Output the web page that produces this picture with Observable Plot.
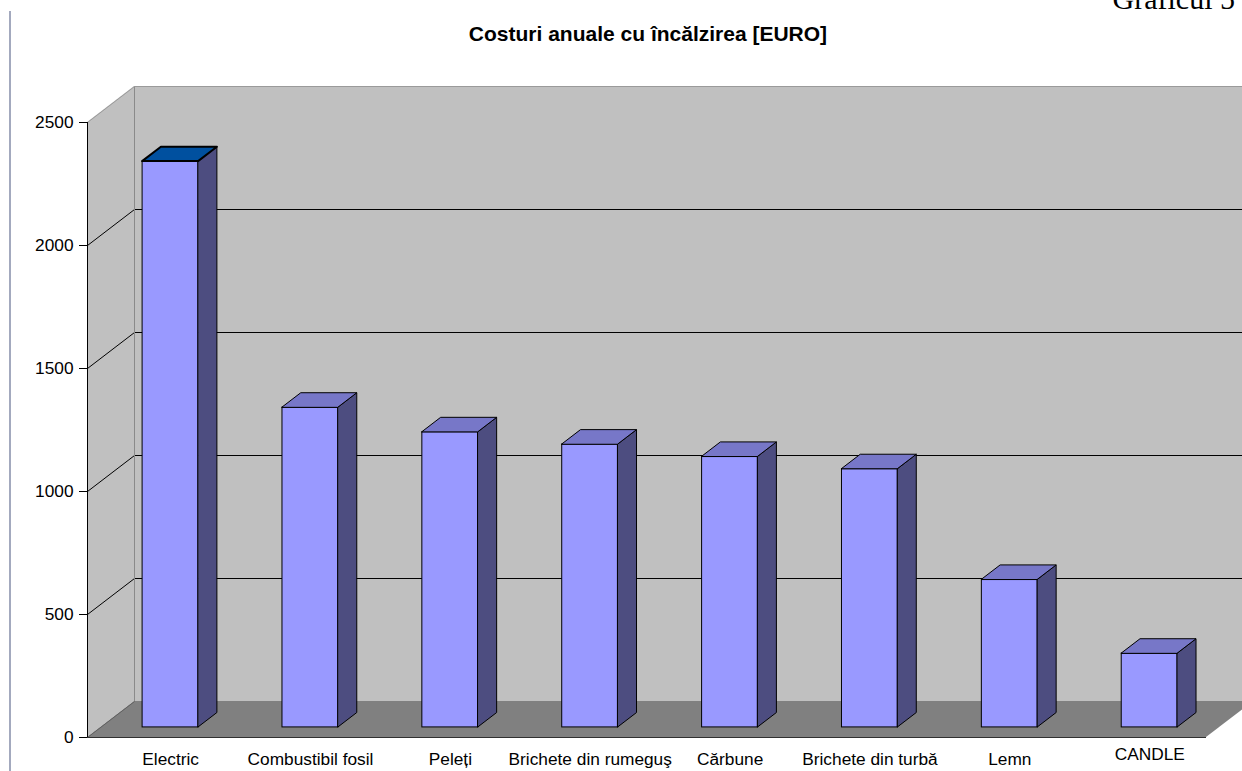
<!DOCTYPE html>
<html><head><meta charset="utf-8">
<script src="https://cdn.jsdelivr.net/npm/d3@7"></script>
<script src="https://cdn.jsdelivr.net/npm/@observablehq/plot@0.6"></script>
<style>
body{margin:0;background:#fff;}
#wrap{position:relative;width:1242px;height:771px;overflow:hidden;background:#fff;}
#vline{position:absolute;left:9px;top:11px;width:2px;height:770px;background:#A3A9BE;}
#fig{position:absolute;left:0;top:0;}
#title{position:absolute;left:448px;width:400px;top:22px;line-height:21px;text-align:center;font:bold 21px "Liberation Sans",Arial,sans-serif;color:#000;white-space:nowrap;}
#gref{position:absolute;right:7px;top:-18px;line-height:30px;font:30px "Liberation Serif","Times New Roman",serif;color:#000;white-space:nowrap;}
</style></head><body>
<div id="wrap">
<div id="vline"></div>
<div id="fig"></div>
<div id="title">Costuri anuale cu încălzirea [EURO]</div>
<div id="gref">Graficul 5</div>
</div>
<script>
const categories = ["Electric", "Combustibil fosil", "Peleți", "Brichete din rumeguş", "Cărbune", "Brichete din turbă", "Lemn", "CANDLE"];
const values = [2300, 1300, 1200, 1150, 1100, 1050, 600, 300];
const yTicks = [0, 500, 1000, 1500, 2000, 2500];

const W = 1242, H = 771, mL = 87, mR = 36, mT = 122, mB = 34;
const n = categories.length;
const yMax = yTicks[yTicks.length - 1];
const pxY = (H - mT - mB) / yMax;
const pxX = (W - mL - mR) / n;
const DX = 47 / pxX, DY = 36 / pxY;      // full floor depth in data units
const f0 = 0.28, f1 = 0.40;                // bar depth start / bar depth
const halfW = 28 / pxX;

const bars = categories.map((c, i) => {
  const cx = i + 0.5 + f0 * DX;
  return {c, i, v: values[i], xl: cx - halfW, xr: cx + halfW, base: f0 * DY, top: values[i] + f0 * DY};
});
const sides = bars.flatMap(b => [
  {id: b.c, x: b.xr, y1: b.base, y2: b.top},
  {id: b.c, x: b.xr + f1 * DX, y1: b.base + f1 * DY, y2: b.top + f1 * DY}
]);
const tops = bars.flatMap(b => [
  {id: b.c, first: b.i === 0, y: b.top, x1: b.xl, x2: b.xr},
  {id: b.c, first: b.i === 0, y: b.top + f1 * DY, x1: b.xl + f1 * DX, x2: b.xr + f1 * DX}
]);
const leftWall = [{x: 0, y1: 0, y2: yMax}, {x: DX, y1: DY, y2: yMax + DY}];
const floor = [{y: 0, x1: 0, x2: n}, {y: DY, x1: DX, x2: n + DX}];
const backWall = [{x1: DX, x2: n + DX, y1: DY, y2: yMax + DY}];
const inner = yTicks.filter(t => t > 0 && t < yMax);
const centers = bars.map(b => (b.xl + b.xr) / 2);
const catAt = d => categories[Math.round(d - 0.5 - f0 * DX)];

const chart = Plot.plot({
  width: W, height: H,
  marginLeft: mL, marginRight: mR, marginTop: mT, marginBottom: mB,
  x: {domain: [0, n], axis: null},
  y: {domain: [0, yMax], axis: null},
  style: {fontFamily: '"Liberation Sans", Arial, sans-serif', fontSize: "17.3px", color: "#000", background: "transparent", overflow: "visible"},
  marks: [
    Plot.areaY(leftWall, {x: "x", y1: "y1", y2: "y2", fill: "#C0C0C0"}),
    Plot.rect(backWall, {x1: "x1", x2: "x2", y1: "y1", y2: "y2", fill: "#C0C0C0"}),
    Plot.areaX(floor, {y: "y", x1: "x1", x2: "x2", fill: "#808080"}),
    Plot.ruleY(inner, {y: d => d + DY, x1: () => DX, x2: () => n + DX, stroke: "#000", strokeWidth: 1}),
    Plot.link(inner, {x1: () => 0, y1: d => d, x2: () => DX, y2: d => d + DY, stroke: "#000", strokeWidth: 1}),
    Plot.ruleX([DX], {y1: () => DY, y2: () => yMax + DY, stroke: "#8A8A8A"}),
    Plot.ruleY([yMax + DY], {x1: () => DX, x2: () => n + DX, stroke: "#9A9A9A"}),
    Plot.link([yMax], {x1: () => 0, y1: d => d, x2: () => DX, y2: d => d + DY, stroke: "#9A9A9A"}),
    Plot.link([0], {x1: () => 0, y1: d => d, x2: () => DX, y2: d => d + DY, stroke: "#606060"}),
    Plot.ruleX([0], {y1: () => 0, y2: () => yMax, stroke: "#000"}),
    Plot.ruleY([0], {x1: () => 0, x2: () => n, stroke: "#303030"}),
    Plot.axisY({ticks: yTicks, tickSize: 8, tickPadding: 6, tickFormat: d => String(d), fontSize: 17.3}),
    Plot.axisX({ticks: centers.slice(0, n - 1), tickSize: 0, tickPadding: 15, fontSize: 17.3, tickFormat: catAt}),
    Plot.axisX({ticks: centers.slice(n - 1), tickSize: 0, tickPadding: 10, fontSize: 17.3, tickFormat: catAt}),
    Plot.rect(bars, {x1: "xl", x2: "xr", y1: "base", y2: "top", fill: "#9999FF", stroke: "#000", strokeWidth: 1}),
    Plot.areaY(sides, {x: "x", y1: "y1", y2: "y2", z: "id", fill: "#4D4D80", stroke: "#000", strokeWidth: 1}),
    Plot.areaX(tops.filter(d => !d.first), {y: "y", x1: "x1", x2: "x2", z: "id", fill: "#7777C8", stroke: "#000", strokeWidth: 1}),
    Plot.areaX(tops.filter(d => d.first), {y: "y", x1: "x1", x2: "x2", z: "id", fill: "#00509F", stroke: "#000", strokeWidth: 2})
  ]
});
document.getElementById("fig").appendChild(chart);
</script>
</body></html>
